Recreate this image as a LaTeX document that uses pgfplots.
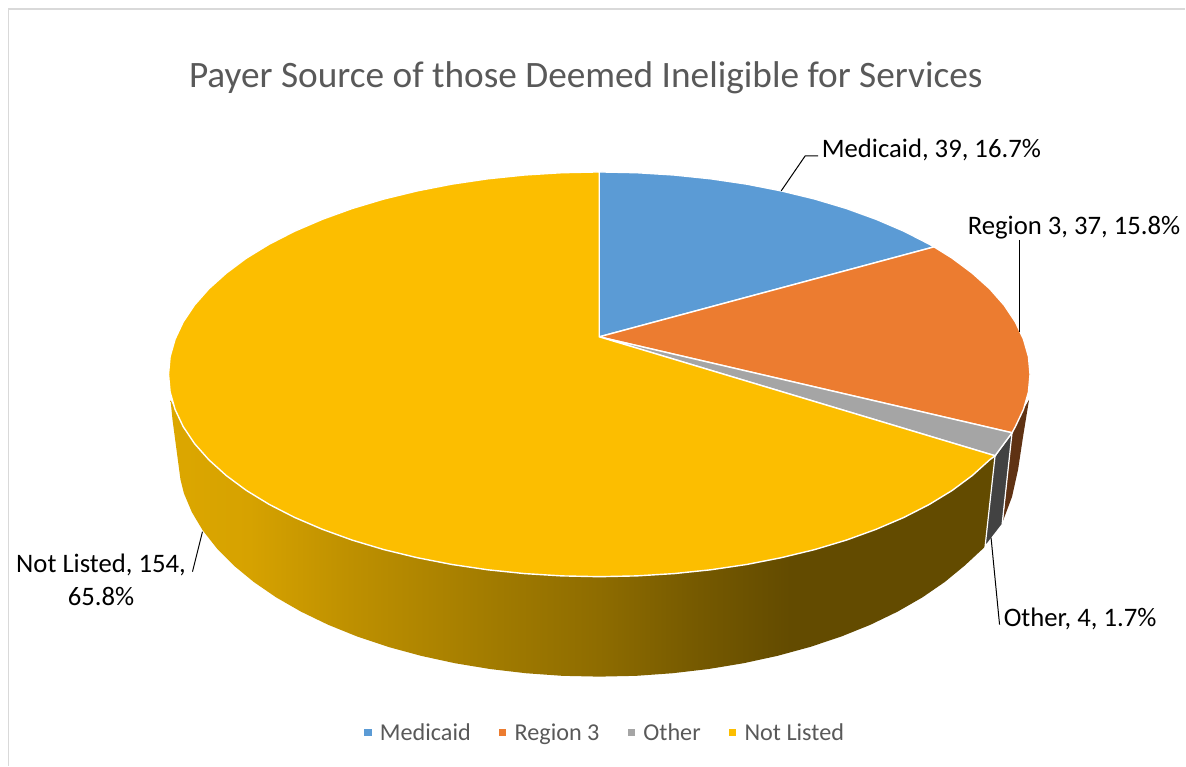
\documentclass[border=0pt]{standalone}
\usepackage{pgfplots}
\pgfplotsset{compat=1.18}
\usepackage{fontspec}
\setmainfont{Carlito}
\definecolor{cMed}{HTML}{5B9BD5}
\definecolor{cReg}{HTML}{EC7C30}
\definecolor{cOth}{HTML}{A5A5A5}
\definecolor{cNot}{HTML}{FCBE00}
\definecolor{cRegS}{HTML}{5F3213}
\definecolor{cOthS}{HTML}{424242}
\definecolor{cTxt}{HTML}{595959}
\definecolor{cBor}{HTML}{D9D9D9}
\definecolor{s0}{HTML}{DCA700}
\definecolor{s1}{HTML}{D6A200}
\definecolor{s2}{HTML}{BE9000}
\definecolor{s3}{HTML}{A07A00}
\definecolor{s4}{HTML}{8E6C00}
\definecolor{s5}{HTML}{755900}
\definecolor{s6}{HTML}{634B00}
\pgfdeclarehorizontalshading{pieside}{100bp}{
 color(0bp)=(s0); color(25bp)=(s0); color(29.8bp)=(s1); color(35.9bp)=(s2);
 color(45bp)=(s3); color(51bp)=(s4); color(57.1bp)=(s5); color(62.6bp)=(s6);
 color(75bp)=(s6); color(100bp)=(s6)}
\begin{document}
\begin{tikzpicture}
\begin{axis}[
  scale only axis, width=1186pt, height=766pt,
  xmin=-0.6, xmax=1185.4, ymin=0, ymax=766, y dir=reverse,
  hide axis, clip=false,
  legend columns=4,
  legend style={at={(0.5100,0.0431)}, anchor=center, draw=none, fill=none, inner sep=0pt,
     font=\fontsize{24.2}{28}\selectfont, text=cTxt,
     /tikz/every even column/.append style={column sep=25pt},
     /tikz/every odd column/.append style={column sep=5pt}},
  legend cell align=left,
  legend image code/.code={\fill[#1] (0pt,-4pt) rectangle (8.5pt,4pt);},
]
\path (axis cs:-0.6,0) rectangle (axis cs:1185.4,766);
\addplot[forget plot, draw=cBor, line width=1.3pt] coordinates {(8,766) (8,9) (1185.4,9)};

% side of Not Listed
\addplot[forget plot, shading=pieside, draw=none] coordinates {
 (170,400) (174.6,409.7) (182.7,426.9) (194,443.8) (208.4,460.1) (225.8,475.8) (245.9,490.7)
 (268.8,504.7) (294.2,517.7) (322,529.6) (351.8,540.4) (383.5,549.9) (416.9,558) (451.6,564.8)
 (487.5,570.1) (524.2,573.9) (561.4,576.2) (599,577) (636.6,576.2) (673.8,573.9) (710.5,570.1)
 (746.4,564.8) (781.1,558) (814.5,549.9) (846.2,540.4) (876,529.6) (903.8,517.7) (929.2,504.7)
 (952.1,490.7) (972.2,475.8) (989.6,460.1) (995,456)
 (985,547) (964.5,566) (944.7,582.3) (922.3,597.7) (897.4,612) (870.3,625.1) (841.1,636.9)
 (810,647.3) (777.3,656.2) (743.3,663.6) (708.2,669.4) (672.3,673.6) (635.8,676.2) (599,677)
 (562.2,676.2) (525.7,673.6) (489.8,669.4) (454.7,663.6) (420.7,656.2) (388,647.3) (356.9,636.9)
 (327.7,625.1) (300.6,612) (275.7,597.7) (253.3,582.3) (233.5,566) (216.5,548.8) (202.4,530.9)
 (191.4,512.5) (183.4,493.5) (180,480) (172,420)
} --cycle;
% side of Region 3
\addplot[forget plot, fill=cRegS, draw=none] coordinates {
 (1029,400) (1023.4,409.7) (1015.3,426.9) (1012,433) (1003,521) (1012,497) (1018,470) (1023,437)
} --cycle;
% side of Other
\addplot[forget plot, fill=cOthS, draw=white, line width=1.2pt] coordinates {
 (1012,433) (995,456) (985,547) (1002,525)
} --cycle;

% top faces
\addplot[fill=cMed, draw=white, line width=1.4pt] coordinates {
 (599,337) (599,172) (636.6,172.8) (673.8,175.1) (710.5,178.9) (746.4,184.2) (781.1,191)
 (814.5,199.1) (846.2,208.6) (876,219.4) (903.8,231.3) (929.2,244.3) (934,247)
} --cycle;
\addlegendentry{Medicaid}
\addplot[fill=cReg, draw=white, line width=1.4pt] coordinates {
 (599,337) (934,247) (952.1,258.3) (972.2,273.3) (989.6,288.9) (1004,305.2) (1015.3,322.1)
 (1023.4,339.3) (1028.4,356.8) (1030,374.5) (1028.4,392.2) (1023.4,409.7) (1015.3,426.9) (1012,433)
} --cycle;
\addlegendentry{Region 3}
\addplot[fill=cOth, draw=white, line width=1.4pt] coordinates {
 (599,337) (1012,433) (1004,443.8) (995,456)
} --cycle;
\addlegendentry{Other}
\addplot[fill=cNot, draw=white, line width=1.4pt] coordinates {
 (599,337) (995,456) (989.6,460.1) (972.2,475.8) (952.1,490.7) (929.2,504.7) (903.8,517.7) (876,529.6)
 (846.2,540.4) (814.5,549.9) (781.1,558) (746.4,564.8) (710.5,570.1) (673.8,573.9) (636.6,576.2)
 (599,577) (561.4,576.2) (524.2,573.9) (487.5,570.1) (451.6,564.8) (416.9,558) (383.5,549.9)
 (351.8,540.4) (322,529.6) (294.2,517.7) (268.8,504.7) (245.9,490.7) (225.8,475.8) (208.4,460.1)
 (194,443.8) (182.7,426.9) (174.6,409.7) (169.6,392.2) (168,374.5) (169.6,356.8) (174.6,339.3)
 (182.7,322.1) (194,305.2) (208.4,288.9) (225.8,273.3) (245.9,258.3) (268.8,244.3) (294.2,231.3)
 (322,219.4) (351.8,208.6) (383.5,199.1) (416.9,191) (451.6,184.2) (487.5,178.9) (524.2,175.1)
 (561.4,172.8) (599,172)
} --cycle;
\addlegendentry{Not Listed}

% leader lines
\addplot[forget plot, black, line width=1pt] coordinates {(781,191) (805,156) (818,156)};
\addplot[forget plot, black, line width=1pt] coordinates {(1019.5,240) (1019.5,332)};
\addplot[forget plot, black, line width=1pt] coordinates {(991,538) (999.5,625)};
\addplot[forget plot, black, line width=1pt] coordinates {(202,532) (192,572)};

\node[text=cTxt, font=\fontsize{37.3}{42}\selectfont, inner sep=0pt] at (axis cs:585.5,78) {Payer Source of those Deemed Ineligible for Services};
\node[anchor=base west, inner sep=0pt, font=\fontsize{26.7}{30}\selectfont] at (axis cs:821.5,158) {Medicaid, 39, 16.7\%};
\node[anchor=base west, inner sep=0pt, font=\fontsize{26.7}{30}\selectfont] at (axis cs:967.5,235) {Region 3, 37, 15.8\%};
\node[anchor=base west, inner sep=0pt, font=\fontsize{26.7}{30}\selectfont] at (axis cs:1003.5,627) {Other, 4, 1.7\%};
\node[anchor=base, inner sep=0pt, font=\fontsize{26.7}{30}\selectfont] at (axis cs:100.5,573) {Not Listed, 154,};
\node[anchor=base, inner sep=0pt, font=\fontsize{26.7}{30}\selectfont] at (axis cs:100.5,606) {65.8\%};
\end{axis}
\end{tikzpicture}
\end{document}
